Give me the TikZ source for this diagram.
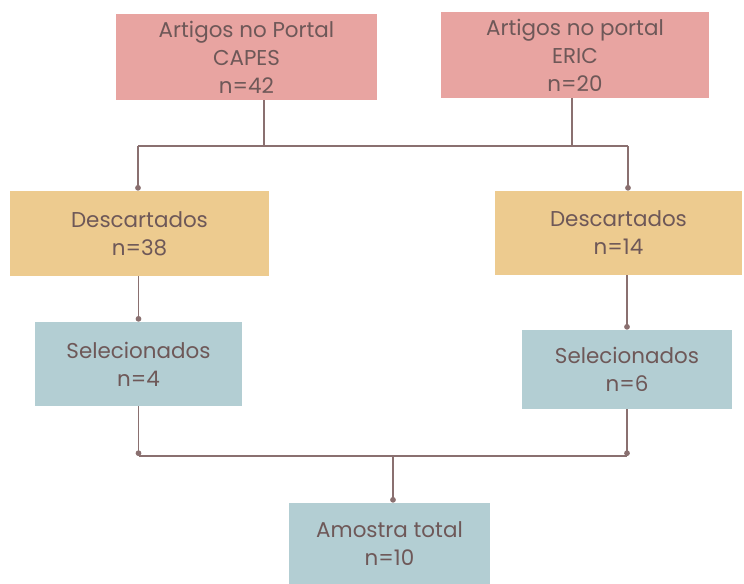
\documentclass[tikz,border=0pt]{standalone}
\usepackage{fontspec}
\setmainfont{Poppins}
\usepackage{tikz}
\usetikzlibrary{calc, arrows.meta}
\definecolor{rosa}{HTML}{E8A4A1}
\definecolor{areia}{HTML}{EDCB8F}
\definecolor{cinzaazul}{HTML}{B3CED3}
\definecolor{linha}{HTML}{8A7070}
\definecolor{texto}{HTML}{6E5858}
\tikzstyle{caixa} = [rectangle, text centered, align=center, text=texto, font=\fontsize{12.2}{16}\selectfont, inner sep=0pt]
\tikzstyle{liga} = [draw=linha, line width=0.9pt]
\tikzstyle{ponto} = [liga, -{Circle[length=3.2pt, fill=linha]}]

\begin{document}
\begin{tikzpicture}
        \useasboundingbox (0, 0) rectangle (14.88, -11.68);
        \node[caixa, fill=rosa, minimum width=5.22cm, minimum height=1.72cm] at (4.93, -1.14) (CAPES) {Artigos no Portal\\CAPES\\n=42};
        \node[caixa, fill=rosa, minimum width=5.36cm, minimum height=1.72cm] at (11.5, -1.1) (ERIC) {Artigos no portal\\ERIC\\n=20};
        \node[caixa, fill=areia, minimum width=5.18cm, minimum height=1.7cm] at (2.79, -4.67) (DescCAPES) {Descartados\\n=38};
        \node[caixa, fill=areia, minimum width=4.94cm, minimum height=1.68cm] at (12.37, -4.66) (DescERIC) {Descartados\\n=14};
        \node[caixa, fill=cinzaazul, minimum width=4.14cm, minimum height=1.68cm] at (2.77, -7.28) (SelCAPES) {Selecionados\\n=4};
        \node[caixa, fill=cinzaazul, minimum width=4.2cm, minimum height=1.58cm] at (12.54, -7.39) (SelERIC) {Selecionados\\n=6};
        \node[caixa, fill=cinzaazul, minimum width=4.02cm, minimum height=1.62cm] at (7.79, -10.87) (Amostra) {Amostra total\\n=10};

        \coordinate (barraL) at (2.76, -2.92);
        \coordinate (barraR) at (12.56, -2.92);
        \coordinate (saidaCAPES) at ($(CAPES.south)+(0.35, 0)$);
        \coordinate (saidaERIC) at ($(ERIC.south)+(-0.06, 0)$);
        \coordinate (juncao) at (7.86, -9.12);

        \draw[liga] (saidaCAPES) -- (saidaCAPES |- barraL);
        \draw[liga] (saidaERIC) -- (saidaERIC |- barraR);
        \draw[liga] (barraL) -- (barraR);
        \draw[ponto] (barraL) -- (barraL |- DescCAPES.north);
        \draw[ponto] (barraR) -- (barraR |- DescERIC.north);

        \draw[ponto] (SelCAPES.north |- DescCAPES.south) -- (SelCAPES.north);
        \draw[ponto] (SelERIC.north |- DescERIC.south) -- (SelERIC.north);

        \draw[ponto] (SelCAPES.south) -- (SelCAPES.south |- juncao);
        \draw[ponto] (SelERIC.south) -- (SelERIC.south |- juncao);
        \draw[liga] (SelCAPES.south |- juncao) -- (SelERIC.south |- juncao);
        \draw[ponto] (juncao) -- (juncao |- Amostra.north);
    \end{tikzpicture}
\end{document}
